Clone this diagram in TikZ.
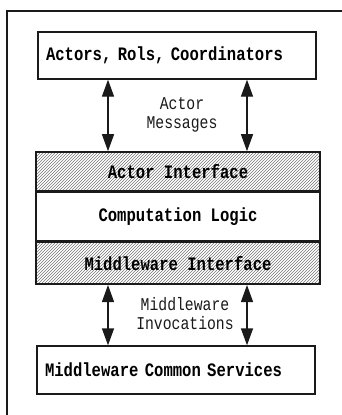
\documentclass[tikz,border=0pt]{standalone}
\usepackage{fontspec}
\setmonofont[FakeStretch=0.82]{Liberation Mono}
\usetikzlibrary{arrows.meta,patterns}
\definecolor{linea}{HTML}{1A1A1A}
\definecolor{rayado}{HTML}{777777}

\begin{document}
\begin{tikzpicture}[x=1pt,y=-1pt,font=\ttfamily\fontsize{19}{21}\selectfont,
box/.style={rectangle,draw=linea,line width=1.3pt,text width=262pt,align=left,inner xsep=8pt,inner ysep=0pt,minimum height=47pt,font=\ttfamily\bfseries\fontsize{19}{21}\selectfont},
layer/.style={rectangle,draw=linea,line width=1.6pt,minimum width=284pt,align=center,inner sep=0pt,font=\ttfamily\bfseries\fontsize{19}{21}\selectfont},
hatch/.style={layer,pattern=north east lines,pattern color=rayado},
msg/.style={{Triangle[length=17pt,width=12pt]}-{Triangle[length=17pt,width=12pt]},line width=1.3pt,draw=linea},
lbl/.style={align=center,inner sep=0pt,text=linea,font=\ttfamily\fontsize{18}{18.5}\selectfont}]
\useasboundingbox (0,0) rectangle (342,415);

% frame
\draw[linea,line width=1.3pt] (7,415) -- (7,11) -- (342,11);

\node[box] (act) at (177,55.5) {Actors, Rols, Coordinators};
\node[hatch,minimum height=39pt] (ai) at (178,171.5) {Actor Interface};
\node[layer,minimum height=48pt,anchor=north] (cl) at (ai.south) {Computation Logic};
\node[hatch,minimum height=42pt,anchor=north] (mi) at (cl.south) {Middleware Interface};
\node[box,minimum height=48pt] (mcs) at (176,370) {Middleware Common Services};

\coordinate (lx) at (108,0);
\coordinate (rx) at (247,0);

\draw[msg] (act.south -| lx) -- (ai.north -| lx);
\draw[msg] (act.south -| rx) -- (ai.north -| rx);
\node[lbl] (am) at (182,115) {Actor\\Messages};

\draw[msg] (mi.south -| lx) -- (mcs.north -| lx);
\draw[msg] (mi.south -| rx) -- (mcs.north -| rx);
\node[lbl] (mw) at (185,313.5) {Middleware\\Invocations};
\end{tikzpicture}
\end{document}
